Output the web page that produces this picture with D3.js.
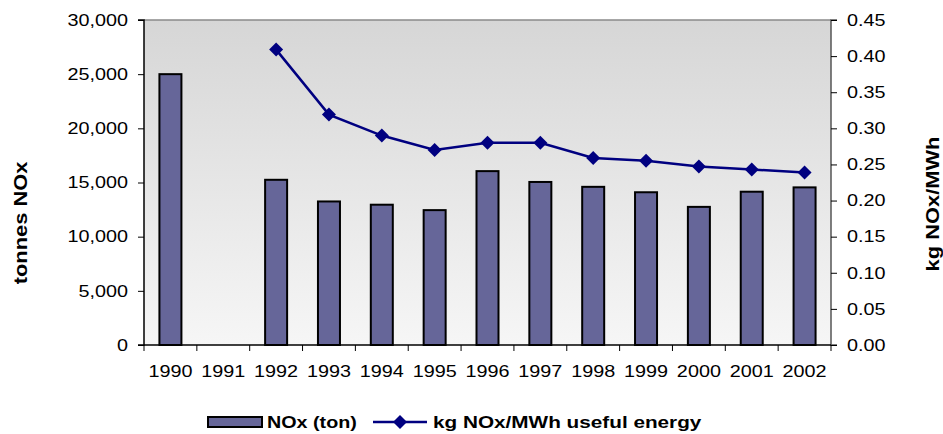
<!DOCTYPE html>
<html>
<head>
<meta charset="utf-8">
<script src="https://cdn.jsdelivr.net/npm/d3@7"></script>
<style>
  body { margin: 0; background: #fff; }
  text { font-family: "Liberation Sans", Arial, sans-serif; }
</style>
</head>
<body>
<div id="chart"></div>
<script>
// data
const years = ["1990", "1991", "1992", "1993", "1994", "1995", "1996", "1997", "1998", "1999", "2000", "2001", "2002"];
const noxTon = [25000, null, 15250, 13250, 12950, 12450, 16050, 15050, 14600, 14100, 12750, 14150, 14550];
const noxPerMWh = [null, null, 0.409, 0.319, 0.29, 0.27, 0.28, 0.28, 0.259, 0.255, 0.247, 0.243, 0.239];
const leftTicks = [0, 5000, 10000, 15000, 20000, 25000, 30000];
const rightTicks = [0, 0.05, 0.1, 0.15, 0.2, 0.25, 0.3, 0.35, 0.4, 0.45];

const width = 943;
const height = 434;
const plot = { left: 144, top: 20, right: 831, bottom: 345 };
const stretch = 1.2; // the original text is drawn wider than Arial

const svg = d3.select("#chart")
  .append("svg")
  .attr("width", width)
  .attr("height", height);

// widen a text along its own direction, keeping its anchor point
function widen(sel, k) {
  sel.each(function () {
    const t = d3.select(this);
    const tx = +t.attr("x") || 0;
    const ty = +t.attr("y") || 0;
    const prev = t.attr("transform") || "";
    t.attr("x", 0).attr("y", 0)
      .attr("transform", `${prev} translate(${tx},${ty}) scale(${k},1)`);
  });
}

// grey gradient behind the plot
const grad = svg.append("defs").append("linearGradient")
  .attr("id", "bg").attr("x1", 0).attr("y1", 0).attr("x2", 0).attr("y2", 1);
grad.append("stop").attr("offset", "0%").attr("stop-color", "#d6d6d6");
grad.append("stop").attr("offset", "100%").attr("stop-color", "#f6f6f6");

const x = d3.scaleBand().domain(years).range([plot.left, plot.right]);
const yL = d3.scaleLinear().domain([0, 30000]).range([plot.bottom, plot.top]);
const yR = d3.scaleLinear().domain([0, 0.45]).range([plot.bottom, plot.top]);

svg.append("rect")
  .attr("x", plot.left).attr("y", plot.top)
  .attr("width", plot.right - plot.left).attr("height", plot.bottom - plot.top)
  .attr("fill", "url(#bg)");
svg.append("line")
  .attr("x1", plot.left).attr("x2", plot.right)
  .attr("y1", plot.top).attr("y2", plot.top)
  .attr("stroke", "#8a8a8a").attr("stroke-width", 1.5);

// bars
const barW = 22;
svg.append("g").selectAll("rect")
  .data(years.map((y, i) => ({ year: y, v: noxTon[i] })).filter(d => d.v != null))
  .join("rect")
  .attr("x", d => x(d.year) + x.bandwidth() / 2 - barW / 2)
  .attr("y", d => yL(d.v))
  .attr("width", barW)
  .attr("height", d => yL(0) - yL(d.v))
  .attr("fill", "#666699")
  .attr("stroke", "#000")
  .attr("stroke-width", 2);

// axes
const fmt = d3.format(",");
const leftAxis = svg.append("g")
  .attr("transform", `translate(${plot.left},0)`)
  .call(d3.axisLeft(yL).tickValues(leftTicks).tickFormat(fmt).tickSize(6).tickPadding(10));
const rightAxis = svg.append("g")
  .attr("transform", `translate(${plot.right},0)`)
  .call(d3.axisRight(yR).tickValues(rightTicks).tickFormat(d3.format(".2f")).tickSize(6).tickPadding(10));
const bottomAxis = svg.append("g")
  .attr("transform", `translate(0,${plot.bottom})`)
  .call(d3.axisBottom(x).tickSize(0).tickPadding(20));

// category boundary ticks
svg.append("g").selectAll("line")
  .data(years.concat(["end"]))
  .join("line")
  .attr("x1", (d, i) => plot.left + i * x.step())
  .attr("x2", (d, i) => plot.left + i * x.step())
  .attr("y1", plot.bottom).attr("y2", plot.bottom + 6)
  .attr("stroke", "#000");

[leftAxis, rightAxis, bottomAxis].forEach(g => {
  g.selectAll("text").attr("font-size", 16.5).attr("fill", "#000")
    .attr("font-family", "'Liberation Sans', Arial, sans-serif");
  widen(g.selectAll("text"), stretch);
  g.selectAll("line").attr("stroke", "#000");
  g.select(".domain").attr("stroke", "#000").attr("stroke-width", 1.5);
});
leftAxis.select(".domain").attr("d", `M-6,${plot.top}H0V${plot.bottom}H-6`);
rightAxis.select(".domain").attr("d", `M6,${plot.top}H0V${plot.bottom}H6`).attr("stroke", "#555");
bottomAxis.select(".domain").attr("d", `M${plot.left},0H${plot.right}`);

// axis titles
svg.append("text")
  .attr("transform", `translate(27,223) rotate(-90) scale(${stretch + 0.05},1)`)
  .attr("text-anchor", "middle")
  .attr("font-size", 17.5).attr("font-weight", "bold")
  .text("tonnes NOx");
svg.append("text")
  .attr("transform", `translate(939,204) rotate(-90) scale(${stretch + 0.05},1)`)
  .attr("text-anchor", "middle")
  .attr("font-size", 17.5).attr("font-weight", "bold")
  .text("kg NOx/MWh");

// line series
const pts = years.map((y, i) => ({ year: y, v: noxPerMWh[i] })).filter(d => d.v != null);
const lineColor = "#000080";
svg.append("path")
  .datum(pts)
  .attr("fill", "none")
  .attr("stroke", lineColor)
  .attr("stroke-width", 2.5)
  .attr("d", d3.line().x(d => x(d.year) + x.bandwidth() / 2).y(d => yR(d.v)));

const diamond = d3.symbol().type(d3.symbolDiamond2).size(125);
svg.append("g").selectAll("path")
  .data(pts)
  .join("path")
  .attr("transform", d => `translate(${x(d.year) + x.bandwidth() / 2},${yR(d.v)})`)
  .attr("d", diamond)
  .attr("fill", lineColor);

// legend
const legend = svg.append("g");
legend.append("rect")
  .attr("x", 208).attr("y", 417).attr("width", 54).attr("height", 10)
  .attr("fill", "#666699").attr("stroke", "#000").attr("stroke-width", 2);
const lgBar = legend.append("text")
  .attr("x", 267).attr("y", 428)
  .attr("font-size", 17).attr("font-weight", "bold")
  .text("NOx (ton)");
legend.append("line")
  .attr("x1", 373).attr("x2", 427).attr("y1", 422).attr("y2", 422)
  .attr("stroke", lineColor).attr("stroke-width", 2.5);
legend.append("path")
  .attr("transform", "translate(400,422)")
  .attr("d", diamond)
  .attr("fill", lineColor);
const lgLine = legend.append("text")
  .attr("x", 433).attr("y", 428)
  .attr("font-size", 17).attr("font-weight", "bold")
  .text("kg NOx/MWh useful energy");
widen(lgBar, 1.16);
widen(lgLine, 1.22);
</script>
</body>
</html>
